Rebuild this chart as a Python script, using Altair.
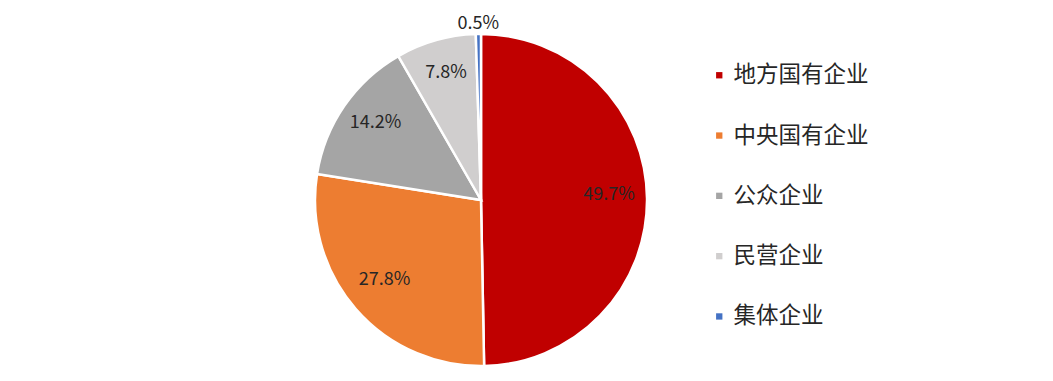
import altair as alt
import pandas as pd

categories = ["地方国有企业", "中央国有企业", "公众企业", "民营企业", "集体企业"]
values = [49.7, 27.8, 14.2, 7.8, 0.5]
labels = ["49.7%", "27.8%", "14.2%", "7.8%", "0.5%"]
colors = ["#C00000", "#ED7D31", "#A5A5A5", "#D0CECE", "#4472C4"]

df = pd.DataFrame({"cat": categories, "value": values, "label": labels,
                   "idx": list(range(len(categories)))})

FONT = "Noto Sans CJK SC"
cx, cy = 473, 192

base = alt.Chart(df).encode(
    theta=alt.Theta("value:Q", stack=True),
    order=alt.Order("idx:Q", sort="ascending"),
    x=alt.value(cx), y=alt.value(cy),
)

pie = base.mark_arc(outerRadius=166, stroke="white", strokeWidth=2.5).encode(
    color=alt.Color("cat:N", sort=categories,
                    scale=alt.Scale(domain=categories, range=colors),
                    legend=alt.Legend(title=None, orient="none", legendX=700, legendY=56,
                                      symbolType="square", symbolSize=40,
                                      symbolStrokeWidth=0,
                                      labelFont=FONT, labelFontSize=22.5,
                                      labelColor="#262626", labelOffset=3,
                                      rowPadding=37.3, labelLimit=300)),
)

text_in = base.mark_text(font=FONT, fontSize=18, color="#262626", radius=128, dy=-4).encode(
    text=alt.condition(alt.datum.value >= 1, "label:N", alt.value("")),
)
text_out = base.mark_text(font=FONT, fontSize=18, color="#262626", radius=176).encode(
    text=alt.condition(alt.datum.value < 1, "label:N", alt.value("")),
)

chart = alt.layer(pie, text_in, text_out).properties(
    width=1037, height=365, padding=0
).configure_view(stroke=None)

chart.save("out.html", embed_options={"renderer": "svg", "actions": False})
